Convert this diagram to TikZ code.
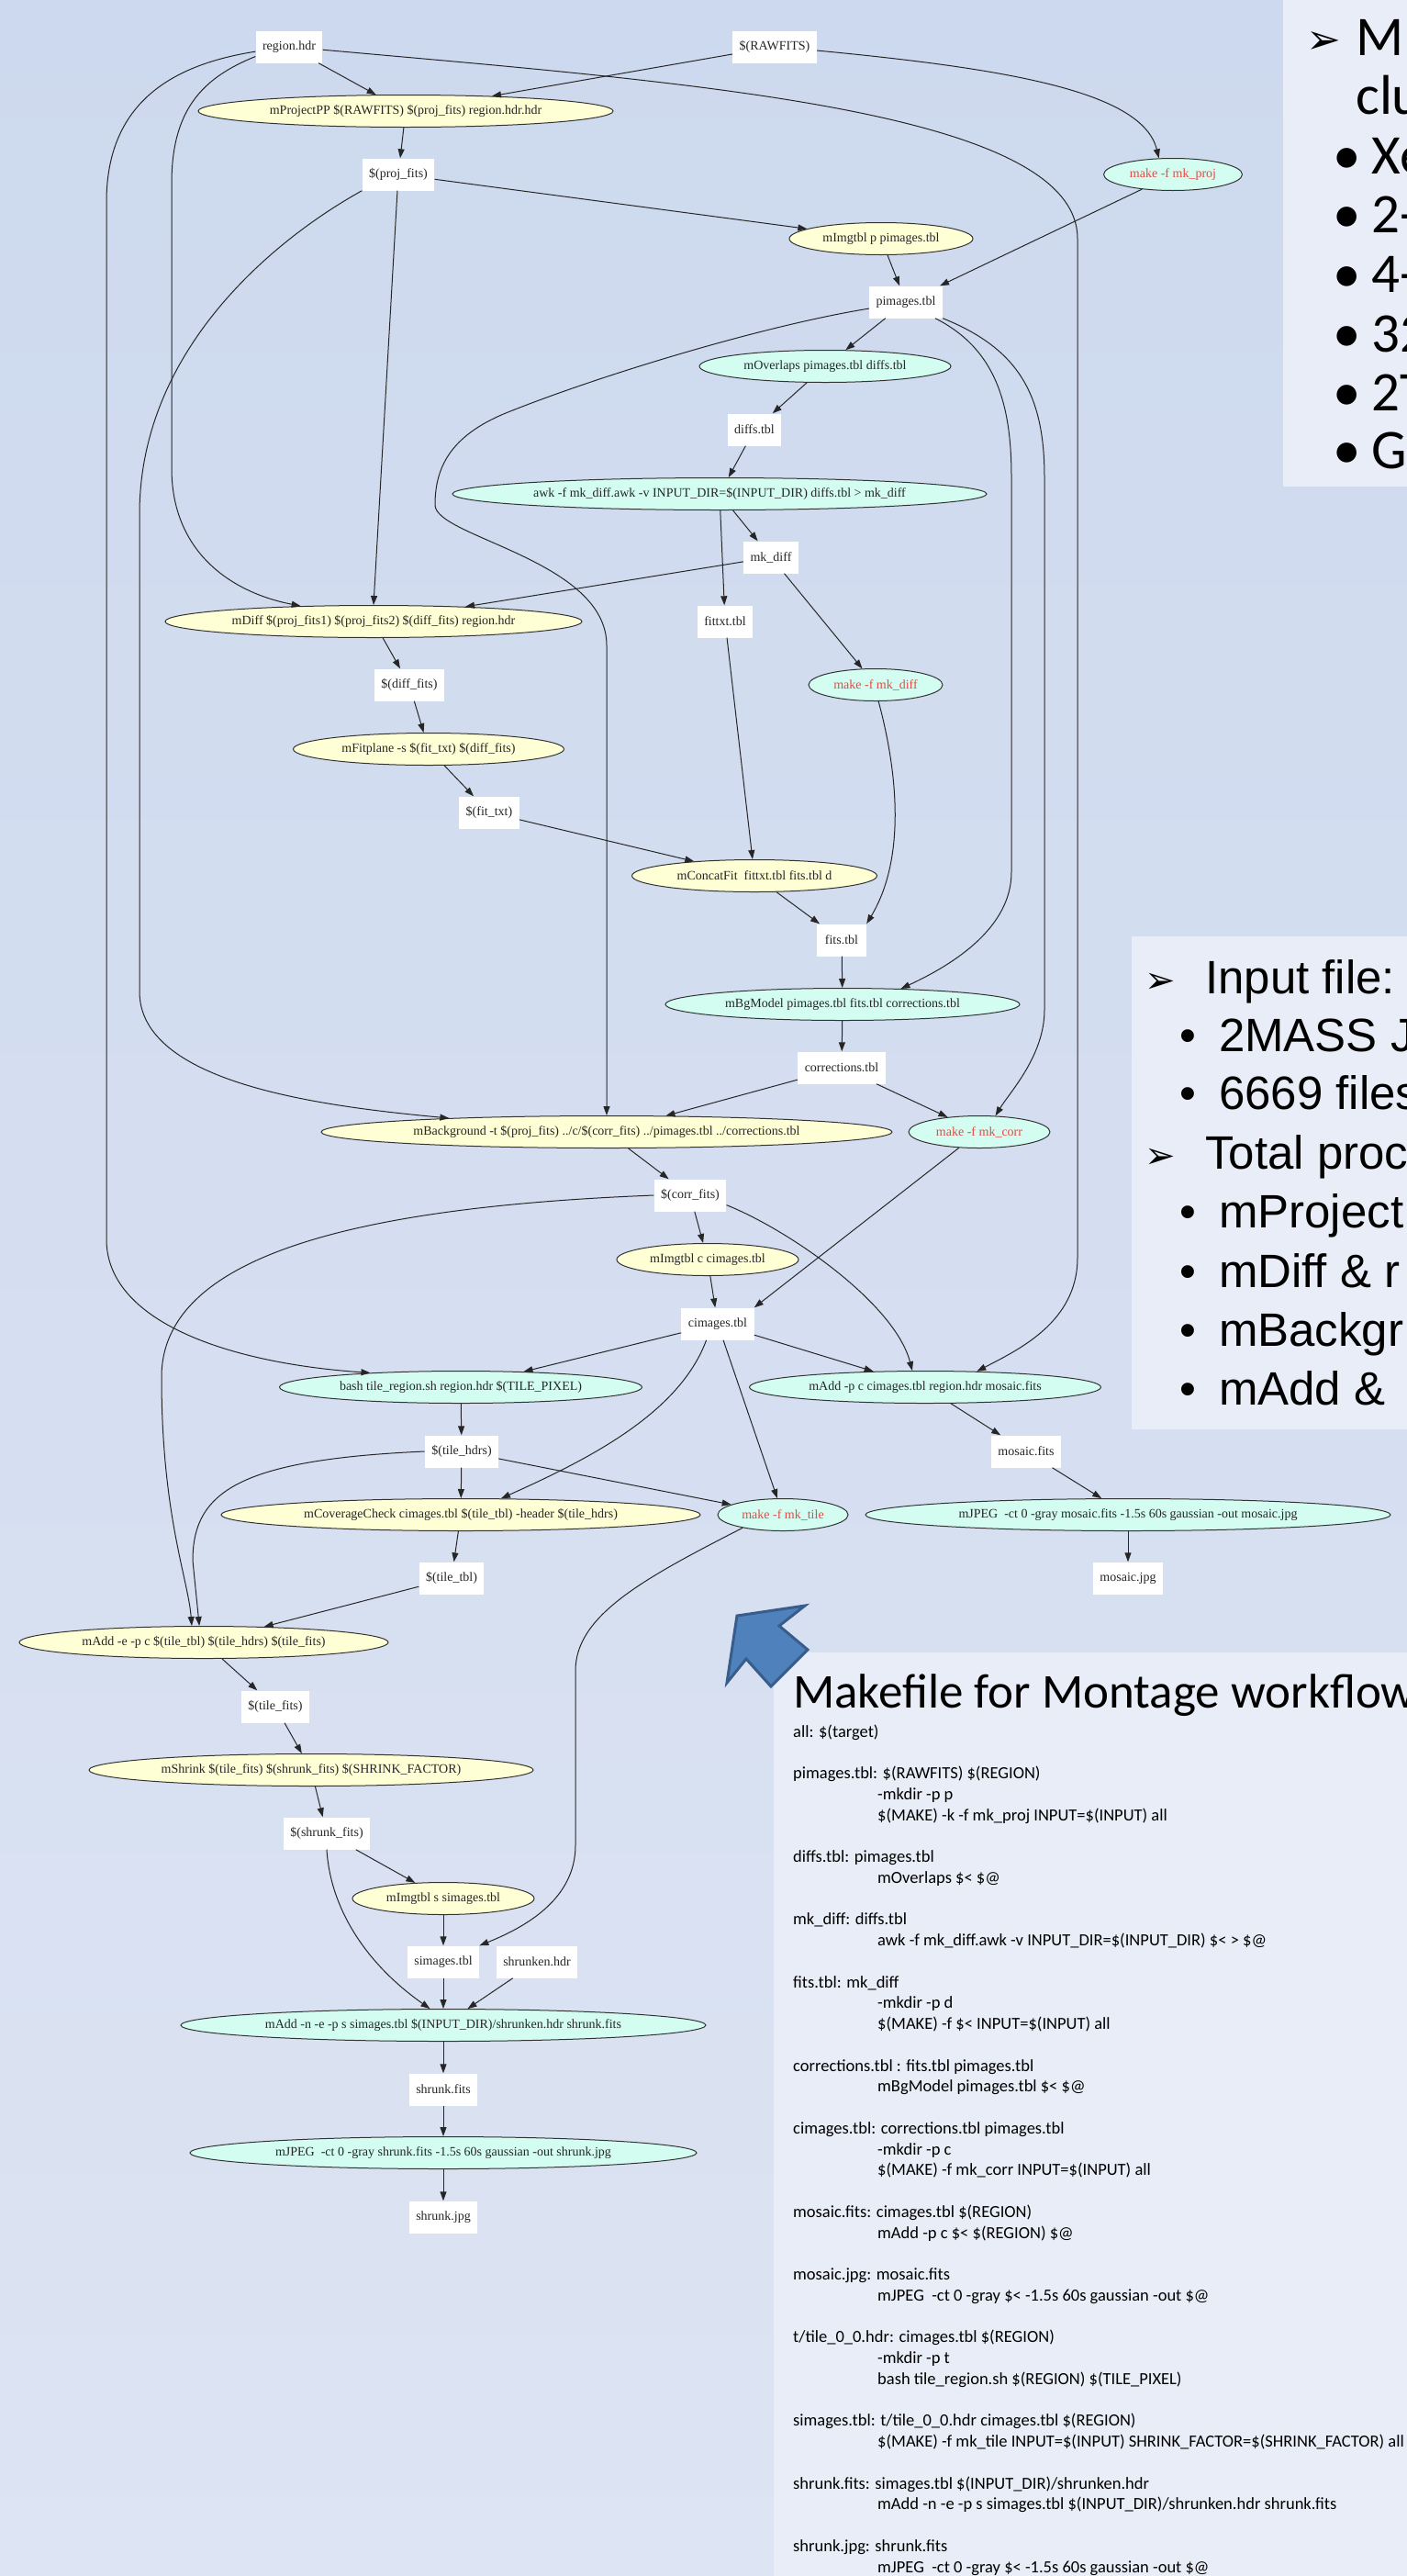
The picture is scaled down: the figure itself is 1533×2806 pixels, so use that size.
\documentclass[tikz,border=0pt]{standalone}
\usepackage{fontspec}
\setmainfont{Liberation Serif}
\newfontfamily\calfont{Carlito}
\newfontfamily\arfont{Liberation Sans}
\newfontfamily\dingfont{DejaVu Sans}
\usetikzlibrary{arrows.meta,shapes.geometric}
\definecolor{slidetop}{RGB}{205,217,238}
\definecolor{slidebot}{RGB}{221,228,243}
\definecolor{panelbg}{RGB}{232,237,247}
\definecolor{gvyellow}{RGB}{255,255,214}
\definecolor{gvcyan}{RGB}{210,253,240}
\definecolor{gvred}{RGB}{232,72,68}
\definecolor{callblue}{RGB}{79,129,189}
\definecolor{callline}{RGB}{56,93,138}
\newcommand{\gvfont}{\fontsize{14}{16}\selectfont}
\newcommand{\topfont}{\calfont\fontsize{61}{66}\selectfont}
\newcommand{\midfont}{\arfont\fontsize{51}{62}\selectfont}
\newcommand{\titlefont}{\calfont\fontsize{53}{60}\selectfont}
\newcommand{\codefont}{\calfont\fontsize{18.5}{22.75}\selectfont}
\tikzset{
datafile/.style = {rectangle, fill=white, font=\gvfont, text=black!85, inner xsep=7.5pt, inner ysep=2pt, minimum width=54pt, minimum height=35pt},% fichier produit
cmdnode/.style = {ellipse, draw=black!80, line width=1pt, font=\gvfont, text=black!85, inner xsep=2pt, inner ysep=1pt, minimum height=35pt},% commande
cmd_y/.style = {cmdnode, fill=gvyellow},% commande Montage
cmd_c/.style = {cmdnode, fill=gvcyan},% script, table
cmd_r/.style = {cmd_c, text=gvred},% sous-make
dep/.style = {-{Triangle[length=10pt,width=7pt]}, line width=1pt, draw=black!85},
slidetext/.style = {anchor=base west, inner sep=0pt, text=black}
}
\begin{document}
\begin{tikzpicture}[x=1pt,y=-1pt]
\useasboundingbox (0,0) rectangle (1533,2806);
\fill[top color=slidetop, bottom color=slidebot] (0,0) rectangle (1533,2806);
\fill[panelbg] (1398,0) rectangle (1533,530);
\fill[panelbg] (1233,1020) rectangle (1533,1557);
\fill[panelbg] (843,1800) rectangle (1533,2806);

\node[datafile] (rhdr) at (315,51) {region.hdr};
\node[datafile] (rawfits) at (844,51) {\$(RAWFITS)};
\node[cmd_y, minimum width=452] (projpp) at (442,121) {mProjectPP \$(RAWFITS) \$(proj\_fits) region.hdr.hdr};
\node[datafile] (projfits) at (434,190) {\$(proj\_fits)};
\node[cmd_r, minimum width=151] (mkproj) at (1278,190) {make -f mk\_proj};
\node[cmd_y, minimum width=200] (imgp) at (960,260) {mImgtbl p pimages.tbl};
\node[datafile] (pimages) at (987,329) {pimages.tbl};
\node[cmd_c, minimum width=274] (overlaps) at (899,399) {mOverlaps pimages.tbl diffs.tbl};
\node[datafile] (diffs) at (822,468) {diffs.tbl};
\node[cmd_c, minimum width=582] (awk) at (784,538) {awk -f mk\_diff.awk -v INPUT\_DIR=\$(INPUT\_DIR) diffs.tbl > mk\_diff};
\node[datafile] (mkdiff) at (840,607) {mk\_diff};
\node[cmd_y, minimum width=454] (mdiff) at (407,677) {mDiff \$(proj\_fits1) \$(proj\_fits2) \$(diff\_fits) region.hdr};
\node[datafile] (fittxt) at (790,677) {fittxt.tbl};
\node[datafile] (difffits) at (446,746) {\$(diff\_fits)};
\node[cmd_r, minimum width=146] (mkdiffr) at (954,746) {make -f mk\_diff};
\node[cmd_y, minimum width=295] (fitplane) at (467,816) {mFitplane -s \$(fit\_txt) \$(diff\_fits)};
\node[datafile] (fittxtv) at (533,885) {\$(fit\_txt)};
\node[cmd_y, minimum width=267] (concat) at (822,954) {mConcatFit~~fittxt.tbl fits.tbl d};
\node[datafile] (fits) at (917,1024) {fits.tbl};
\node[cmd_c, minimum width=386] (bgmodel) at (918,1094) {mBgModel pimages.tbl fits.tbl corrections.tbl};
\node[datafile] (corr) at (917,1163) {corrections.tbl};
\node[cmd_y, minimum width=622] (bgnd) at (661,1233) {mBackground -t \$(proj\_fits) ../c/\$(corr\_fits) ../pimages.tbl ../corrections.tbl};
\node[cmd_r, minimum width=154] (mkcorr) at (1067,1233) {make -f mk\_corr};
\node[datafile] (corrfits) at (752,1302) {\$(corr\_fits)};
\node[cmd_y, minimum width=198] (imgc) at (771,1372) {mImgtbl c cimages.tbl};
\node[datafile] (cimages) at (782,1442) {cimages.tbl};
\node[cmd_c, minimum width=395] (tilereg) at (502,1511) {bash tile\_region.sh region.hdr \$(TILE\_PIXEL)};
\node[cmd_c, minimum width=383] (addmos) at (1008,1511) {mAdd -p c cimages.tbl region.hdr mosaic.fits};
\node[datafile] (tilehdrs) at (503,1581) {\$(tile\_hdrs)};
\node[datafile] (mosfits) at (1118,1581) {mosaic.fits};
\node[cmd_y, minimum width=522] (cover) at (502,1650) {mCoverageCheck cimages.tbl \$(tile\_tbl) -header \$(tile\_hdrs)};
\node[cmd_r, minimum width=142] (mktile) at (853,1650) {make -f mk\_tile};
\node[cmd_c, minimum width=572] (jpegmos) at (1229,1650) {mJPEG~~-ct 0 -gray mosaic.fits -1.5s 60s gaussian -out mosaic.jpg};
\node[datafile] (tiletbl) at (492,1719) {\$(tile\_tbl)};
\node[datafile] (mosjpg) at (1229,1719) {mosaic.jpg};
\node[cmd_y, minimum width=402] (addtile) at (222,1789) {mAdd -e -p c \$(tile\_tbl) \$(tile\_hdrs) \$(tile\_fits)};
\node[datafile] (tilefits) at (300,1859) {\$(tile\_fits)};
\node[cmd_y, minimum width=484] (shrink) at (339,1928) {mShrink \$(tile\_fits) \$(shrunk\_fits) \$(SHRINK\_FACTOR)};
\node[datafile] (shrfits) at (356,1997) {\$(shrunk\_fits)};
\node[cmd_y, minimum width=198] (imgs) at (483,2068) {mImgtbl s simages.tbl};
\node[datafile] (simages) at (483,2137) {simages.tbl};
\node[datafile] (shrhdr) at (585,2137) {shrunken.hdr};
\node[cmd_c, minimum width=572] (addshr) at (483,2206) {mAdd -n -e -p s simages.tbl \$(INPUT\_DIR)/shrunken.hdr shrunk.fits};
\node[datafile] (shrunkfits) at (483,2276) {shrunk.fits};
\node[cmd_c, minimum width=552] (jpegshr) at (483,2345) {mJPEG~~-ct 0 -gray shrunk.fits -1.5s 60s gaussian -out shrunk.jpg};
\node[datafile] (shrunkjpg) at (483,2415) {shrunk.jpg};

\draw[dep] (rhdr) -- (projpp);
\draw[dep] (rawfits) -- (projpp);
\draw[dep] (rawfits.-5) .. controls (1100,75) and (1245,100) .. (mkproj.131);
\draw[dep] (rhdr.-5) .. controls (750,90) and (1174,120) .. (1174,260) -- (1174,1370) .. controls (1174,1440) and (1110,1470) .. (addmos.17.6);
\draw[dep] (rhdr.188) .. controls (190,70) and (116,110) .. (116,220) -- (116,1350) .. controls (116,1440) and (250,1485) .. (tilereg.171.5);
\draw[dep] (rhdr.196) .. controls (220,85) and (187,120) .. (187,200) -- (187,510) .. controls (187,600) and (250,645) .. (mdiff.168.7);
\draw[dep] (projpp) -- (projfits);
\draw[dep] (projfits) -- (imgp);
\draw[dep] (projfits) -- (mdiff.north);
\draw[dep] (projfits.south west) .. controls (300,260) and (152,380) .. (152,560) -- (152,1080) .. controls (152,1180) and (350,1205) .. (bgnd.175.6);
\draw[dep] (imgp) -- (pimages);
\draw[dep] (mkproj) -- (pimages);
\draw[dep] (pimages) -- (overlaps);
\draw[dep] (pimages.190) .. controls (830,355) and (650,410) .. (551,450) .. controls (490,475) and (474,510) .. (474,550) .. controls (474,585) and (661,610) .. (661,703) -- (bgnd.north);
\draw[dep] (pimages.-29) .. controls (1085,380) and (1102,440) .. (1102,520) -- (1102,950) .. controls (1102,1010) and (1040,1050) .. (bgmodel.15.2);
\draw[dep] (pimages.south east) .. controls (1110,380) and (1138,430) .. (1138,520) -- (1138,1100) .. controls (1138,1150) and (1100,1190) .. (mkcorr.45);
\draw[dep] (overlaps) -- (diffs);
\draw[dep] (diffs) -- (awk);
\draw[dep] (awk) -- (mkdiff);
\draw[dep] (awk) -- (fittxt);
\draw[dep] (mkdiff) -- (mdiff);
\draw[dep] (mkdiff) -- (mkdiffr);
\draw[dep] (mdiff) -- (difffits);
\draw[dep] (difffits) -- (fitplane);
\draw[dep] (fitplane) -- (fittxtv);
\draw[dep] (fittxtv) -- (concat);
\draw[dep] (fittxt) -- (concat);
\draw[dep] (mkdiffr.-80) .. controls (975,830) and (990,930) .. (fits.north east);
\draw[dep] (concat) -- (fits);
\draw[dep] (fits) -- (bgmodel);
\draw[dep] (bgmodel) -- (corr);
\draw[dep] (corr) -- (bgnd);
\draw[dep] (corr) -- (mkcorr);
\draw[dep] (bgnd) -- (corrfits);
\draw[dep] (mkcorr) -- (cimages.north east);
\draw[dep] (corrfits) -- (imgc);
\draw[dep] (imgc) -- (cimages);
\draw[dep] (corrfits.-15) .. controls (860,1340) and (975,1420) .. (addmos.128.7);
\draw[dep] (corrfits.west) .. controls (380,1315) and (176,1370) .. (176,1500) .. controls (176,1650) and (205,1720) .. (addtile.126);
\draw[dep] (cimages) -- (tilereg);
\draw[dep] (cimages) -- (addmos);
\draw[dep] (cimages) -- (mktile);
\draw[dep] (cimages.235) .. controls (740,1540) and (640,1590) .. (cover.22.9);
\draw[dep] (tilereg) -- (tilehdrs);
\draw[dep] (addmos) -- (mosfits);
\draw[dep] (tilehdrs) -- (cover);
\draw[dep] (tilehdrs) -- (mktile);
\draw[dep] (tilehdrs.west) .. controls (260,1590) and (210,1625) .. (210,1700) -- (addtile.105.5);
\draw[dep] (mosfits) -- (jpegmos);
\draw[dep] (jpegmos) -- (mosjpg);
\draw[dep] (cover) -- (tiletbl);
\draw[dep] (tiletbl) -- (addtile);
\draw[dep] (mktile.198.6) .. controls (700,1720) and (627,1760) .. (627,1820) -- (627,2010) .. controls (627,2070) and (570,2100) .. (simages.north east);
\draw[dep] (addtile) -- (tilefits);
\draw[dep] (tilefits) -- (shrink);
\draw[dep] (shrink) -- (shrfits);
\draw[dep] (shrfits) -- (imgs);
\draw[dep] (shrfits.south) .. controls (360,2080) and (400,2140) .. (addshr.129.7);
\draw[dep] (imgs) -- (simages);
\draw[dep] (simages) -- (addshr);
\draw[dep] (shrhdr) -- (addshr);
\draw[dep] (addshr) -- (shrunkfits);
\draw[dep] (shrunkfits) -- (jpegshr);
\draw[dep] (jpegshr) -- (shrunkjpg);

\node[slidetext, font=\dingfont\fontsize{45}{50}\selectfont] (topmark) at (1423,58) {➢};
\node[slidetext, font=\topfont] (top1) at (1477,60) {M};
\node[slidetext, font=\topfont] (top2) at (1477,124.6) {clu};
\node[slidetext, font=\topfont] (top3) at (1452,189.2) {•\hspace{12pt}Xe};
\node[slidetext, font=\topfont] (top4) at (1452,253.8) {•\hspace{12pt}2-};
\node[slidetext, font=\topfont] (top5) at (1452,318.4) {•\hspace{12pt}4-};
\node[slidetext, font=\topfont] (top6) at (1452,383) {•\hspace{12pt}32};
\node[slidetext, font=\topfont] (top7) at (1452,447.6) {•\hspace{12pt}2T};
\node[slidetext, font=\topfont] (top8) at (1452,510) {•\hspace{12pt}G};

\node[slidetext, font=\dingfont\fontsize{40}{44}\selectfont] (midmark1) at (1247,1081) {➢};
\node[slidetext, font=\midfont] (mid1) at (1313,1082) {Input file:};
\node[slidetext, font=\midfont] (mid2) at (1285,1145) {•\hspace{25pt}2MASS J};
\node[slidetext, font=\midfont] (mid3) at (1285,1208) {•\hspace{25pt}6669 files};
\node[slidetext, font=\dingfont\fontsize{40}{44}\selectfont] (midmark2) at (1247,1272) {➢};
\node[slidetext, font=\midfont] (mid4) at (1313,1273) {Total proc};
\node[slidetext, font=\midfont] (mid5) at (1285,1337) {•\hspace{25pt}mProject};
\node[slidetext, font=\midfont] (mid6) at (1285,1402) {•\hspace{25pt}mDiff \& r};
\node[slidetext, font=\midfont] (mid7) at (1285,1466) {•\hspace{25pt}mBackgr};
\node[slidetext, font=\midfont] (mid8) at (1285,1530) {•\hspace{25pt}mAdd \&};

\node[slidetext, font=\titlefont] (mktitle) at (864,1860) {Makefile for Montage workflow};
\node[slidetext, font=\codefont] (mkcode) at (864,1892) {\begin{tabular}[t]{@{}l@{}}
all: \$(target)\\[22.75pt]
pimages.tbl: \$(RAWFITS) \$(REGION)\\
\hspace*{92pt}-mkdir -p p\\
\hspace*{92pt}\$(MAKE) -k -f mk\_proj INPUT=\$(INPUT) all\\[22.75pt]
diffs.tbl: pimages.tbl\\
\hspace*{92pt}mOverlaps \$< \$@\\[22.75pt]
mk\_diff: diffs.tbl\\
\hspace*{92pt}awk -f mk\_diff.awk -v INPUT\_DIR=\$(INPUT\_DIR) \$< > \$@\\[22.75pt]
fits.tbl: mk\_diff\\
\hspace*{92pt}-mkdir -p d\\
\hspace*{92pt}\$(MAKE) -f \$< INPUT=\$(INPUT) all\\[22.75pt]
corrections.tbl : fits.tbl pimages.tbl\\
\hspace*{92pt}mBgModel pimages.tbl \$< \$@\\[22.75pt]
cimages.tbl: corrections.tbl pimages.tbl\\
\hspace*{92pt}-mkdir -p c\\
\hspace*{92pt}\$(MAKE) -f mk\_corr INPUT=\$(INPUT) all\\[22.75pt]
mosaic.fits: cimages.tbl \$(REGION)\\
\hspace*{92pt}mAdd -p c \$< \$(REGION) \$@\\[22.75pt]
mosaic.jpg: mosaic.fits\\
\hspace*{92pt}mJPEG~~-ct 0 -gray \$< -1.5s 60s gaussian -out \$@\\[22.75pt]
t/tile\_0\_0.hdr: cimages.tbl \$(REGION)\\
\hspace*{92pt}-mkdir -p t\\
\hspace*{92pt}bash tile\_region.sh \$(REGION) \$(TILE\_PIXEL)\\[22.75pt]
simages.tbl: t/tile\_0\_0.hdr cimages.tbl \$(REGION)\\
\hspace*{92pt}\$(MAKE) -f mk\_tile INPUT=\$(INPUT) SHRINK\_FACTOR=\$(SHRINK\_FACTOR) all\\[22.75pt]
shrunk.fits: simages.tbl \$(INPUT\_DIR)/shrunken.hdr\\
\hspace*{92pt}mAdd -n -e -p s simages.tbl \$(INPUT\_DIR)/shrunken.hdr shrunk.fits\\[22.75pt]
shrunk.jpg: shrunk.fits\\
\hspace*{92pt}mJPEG~~-ct 0 -gray \$< -1.5s 60s gaussian -out \$@
\end{tabular}};

\draw[callline, fill=callblue, line width=3pt, line join=miter] (803,1760) -- (877,1749) -- (849,1771) -- (880,1797) -- (840,1837) -- (813,1807) -- (792,1833) -- cycle;
\end{tikzpicture}
\end{document}
